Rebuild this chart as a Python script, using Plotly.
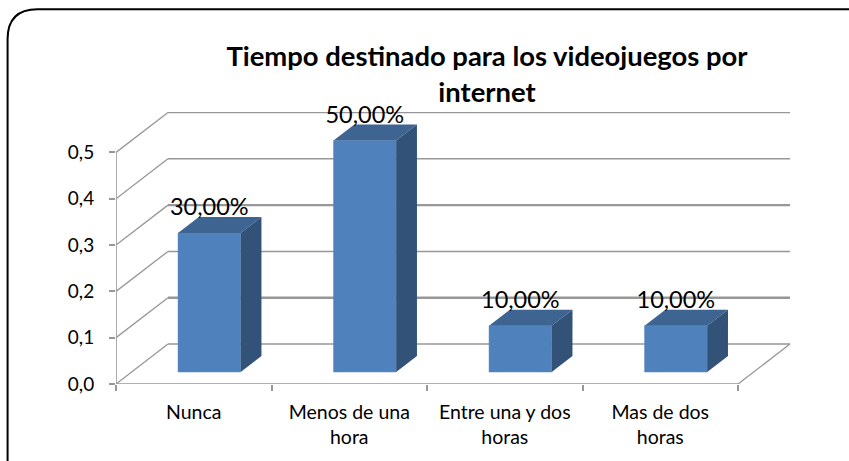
import plotly.graph_objects as go

categories = ["Nunca", "Menos de una<br>hora", "Entre una y dos<br>horas", "Mas de dos<br>horas"]
values = [0.3, 0.5, 0.1, 0.1]
value_labels = ["30,00%", "50,00%", "10,00%", "10,00%"]
y_ticks = [0.0, 0.1, 0.2, 0.3, 0.4, 0.5]
y_tick_labels = ["0,0", "0,1", "0,2", "0,3", "0,4", "0,5"]
title_text = "Tiempo destinado para los videojuegos por<br>internet"

FONT = "Lato"
GRID = "#979797"
W, H = 849, 461
L, R, T, B = 115.5, 792, 112, 384.5
px_x = (738 - L) / 4          # pixels per category
px_y = 464.0                  # pixels per value unit
DX, DY = 52 / px_x, 40 / px_y  # full floor depth, in axis units
BAR_W = 62.7 / px_x
F0, F1 = 0.3, 0.7             # bar front and back, as share of the depth

n = len(categories)
centres = [i + 0.5 for i in range(n)]

shapes = []
for v in y_ticks:
    w = 2.4 if round(v, 1) in (0.1, 0.3) else 1.6
    shapes.append(dict(type="line", xref="x", yref="y", layer="below", x0=DX, x1=n + DX, y0=v + DY, y1=v + DY,
                       line=dict(color=GRID, width=w)))
    shapes.append(dict(type="line", xref="x", yref="y", layer="below", x0=0, x1=DX, y0=v, y1=v + DY,
                       line=dict(color=GRID, width=1.3)))
# floor front edge, right edge, vertical axis
shapes.append(dict(type="line", xref="x", yref="y", layer="below", x0=0, x1=n, y0=0, y1=0, line=dict(color=GRID, width=1.6)))
shapes.append(dict(type="line", xref="x", yref="y", layer="below", x0=n, x1=n + DX, y0=0, y1=DY, line=dict(color=GRID, width=1.3)))
shapes.append(dict(type="line", xref="x", yref="y", layer="below", x0=0, x1=0, y0=0, y1=y_ticks[-1], line=dict(color=GRID, width=1.6)))


# rounded frame: page pixels converted to the plot area's paper coordinates
def paper_x(p):
    return (p - L) / (R - L)


def paper_y(p):
    return (B - p) / (B - T)


fx0, fx1, fy0, fy1, r = 7, 875, 9, 490, 30
path = (f"M {paper_x(fx0)} {paper_y(fy0 + r)} Q {paper_x(fx0)} {paper_y(fy0)} {paper_x(fx0 + r)} {paper_y(fy0)} "
        f"L {paper_x(fx1 - r)} {paper_y(fy0)} Q {paper_x(fx1)} {paper_y(fy0)} {paper_x(fx1)} {paper_y(fy0 + r)} "
        f"L {paper_x(fx1)} {paper_y(fy1 - r)} Q {paper_x(fx1)} {paper_y(fy1)} {paper_x(fx1 - r)} {paper_y(fy1)} "
        f"L {paper_x(fx0 + r)} {paper_y(fy1)} Q {paper_x(fx0)} {paper_y(fy1)} {paper_x(fx0)} {paper_y(fy1 - r)} Z")
shapes.append(dict(type="path", xref="paper", yref="paper", path=path, layer="above",
                   line=dict(color="black", width=2)))

fig = go.Figure()
bar_x = [c + F0 * DX for c in centres]
fig.add_trace(go.Bar(x=bar_x, y=values, base=[F0 * DY] * n, width=BAR_W,
                     marker=dict(color="#4F81BD", line=dict(color="#5B8AC2", width=0.5)),
                     showlegend=False, hoverinfo="skip"))

for c, v in zip(bar_x, values):
    xl, xr = c - BAR_W / 2, c + BAR_W / 2
    ddx, ddy = (F1 - F0) * DX, (F1 - F0) * DY
    yb, yt = F0 * DY, F0 * DY + v
    fig.add_trace(go.Scatter(x=[xl, xr, xr + ddx, xl + ddx, xl], y=[yt, yt, yt + ddy, yt + ddy, yt],
                             fill="toself", fillcolor="#3E6492", mode="lines", line=dict(width=0, color="#3E6492"),
                             showlegend=False, hoverinfo="skip"))
    fig.add_trace(go.Scatter(x=[xr, xr + ddx, xr + ddx, xr, xr], y=[yb, yb + ddy, yt + ddy, yt, yb],
                             fill="toself", fillcolor="#325278", mode="lines", line=dict(width=0, color="#325278"),
                             showlegend=False, hoverinfo="skip"))

fig.add_trace(go.Scatter(x=bar_x, y=[v + F1 * DY - 4 / px_y for v in values], mode="text", text=value_labels,
                         textposition="top center", textfont=dict(family=FONT, size=23.5, color="black"),
                         showlegend=False, hoverinfo="skip", cliponaxis=False))

fig.update_layout(
    width=W, height=H, autosize=False,
    margin=dict(l=L, r=W - R, t=T, b=H - B, pad=0),
    paper_bgcolor="white", plot_bgcolor="white", shapes=shapes, showlegend=False,
    title=dict(text=title_text, x=487 / W, xanchor="center", y=1 - 66 / H, yanchor="top",
               font=dict(family=FONT, size=27.4, color="black", weight="bold")),
    font=dict(family=FONT, color="black"),
)
fig.update_xaxes(range=[0, (R - L) / px_x], tickmode="array", tickvals=centres, ticktext=categories,
                 ticks="", showgrid=False, zeroline=False, showline=False, tickfont=dict(family=FONT, size=19.5),
                 ticklabelstandoff=14,
                 minor=dict(tickmode="array", tickvals=list(range(n + 1)), ticks="outside", ticklen=6,
                            tickcolor=GRID, tickwidth=1.5, showgrid=False))
fig.update_yaxes(range=[0, (B - T) / px_y], tickmode="array", tickvals=y_ticks, ticktext=y_tick_labels,
                 ticks="outside", ticklen=6, tickcolor=GRID, tickwidth=1.5, showgrid=False, zeroline=False,
                 showline=False, tickfont=dict(family=FONT, size=19), ticklabelstandoff=11)

fig.write_html("out.html", config=dict(displayModeBar=False),
               post_script="document.body.style.margin='0';document.documentElement.style.overflow='hidden';")
